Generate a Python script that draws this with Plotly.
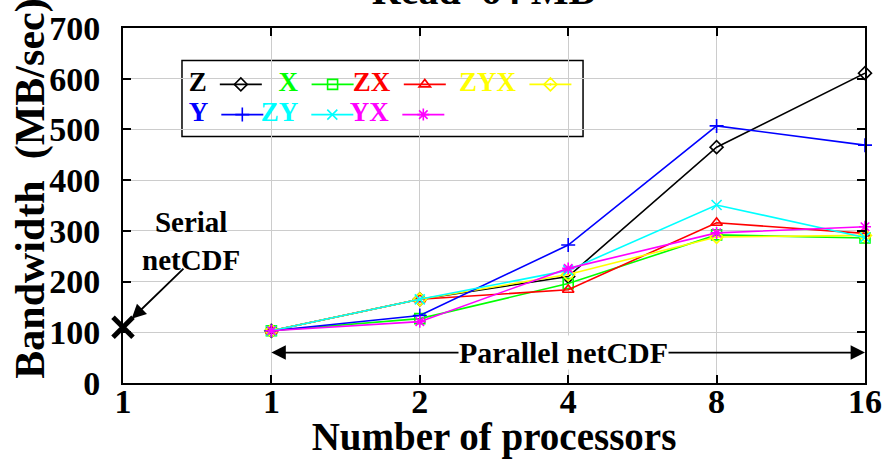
import numpy as np
import plotly.graph_objects as go

# ---- data ----
procs = [1, 2, 4, 8, 16]
tick_labels = ["1", "1", "2", "4", "8", "16"]
serial_bw = [110]
z_bw = [103, 165, 210, 465, 611]
y_bw = [103, 133, 272, 507, 469]
x_bw = [103, 127, 196, 292, 286]
zy_bw = [103, 165, 222, 351, 287]
zx_bw = [103, 165, 184, 316, 295]
yx_bw = [103, 121, 226, 296, 308]
zyx_bw = [103, 165, 214, 288, 291]

xpos = list(np.log2(procs) + 1)  # parallel positions; serial sits at 0
serial_x = [0]
tick_vals = serial_x + xpos

FONT = "Liberation Serif"

series = [
    # name, values, color, symbol, legend slot (x, y in paper units)
    ("Z", z_bw, "#000000", "diamond-open", (0.086, 0.840)),
    ("X", x_bw, "#00ff00", "square-open", (0.207, 0.840)),
    ("ZX", zx_bw, "#ff0000", "triangle-up-open", (0.307, 0.840)),
    ("ZYX", zyx_bw, "#ffff00", "diamond-open-dot", (0.450, 0.840)),
    ("Y", y_bw, "#0000ff", "cross-thin-open", (0.086, 0.755)),
    ("ZY", zy_bw, "#00ffff", "x-thin-open", (0.183, 0.755)),
    ("YX", yx_bw, "#ff00ff", "asterisk-open", (0.303, 0.755)),
]

fig = go.Figure()
legends = {}
for i, (name, vals, color, sym, (lx, ly)) in enumerate(series):
    key = "legend" if i == 0 else f"legend{i + 1}"
    fig.add_trace(go.Scatter(
        x=xpos, y=vals, mode="lines+markers", name=" ",
        line=dict(color=color, width=1.6),
        marker=dict(symbol=sym, size=10, color=color, line=dict(color=color, width=1.6)),
        legend=key, cliponaxis=False,
    ))
    legends[key] = dict(
        x=lx, y=ly, xanchor="left", yanchor="middle", orientation="h",
        bgcolor="rgba(0,0,0,0)", borderwidth=0, itemwidth=42,
        font=dict(family=FONT, size=34),
        title=dict(text=f"<b>{name}</b>", side="left",
                   font=dict(family=FONT, size=27, color=color)),
    )

# serial netCDF point
fig.add_trace(go.Scatter(
    x=serial_x, y=serial_bw, mode="markers", showlegend=False,
    marker=dict(symbol="x-thin-open", size=20, color="black", line=dict(color="black", width=5)),
    cliponaxis=False,
))

axis_font = dict(family=FONT, size=34, color="black", weight="bold")

fig.update_layout(
    template="none",
    width=887, height=459,
    margin=dict(l=123, r=22, t=28, b=76),
    paper_bgcolor="white", plot_bgcolor="white",
    title=dict(text="<b>Read  64 MB</b>", font=dict(family=FONT, size=40, color="black"),
               x=0.545, xanchor="center", y=0.991, yanchor="bottom", yref="container"),
    xaxis=dict(
        range=[0, 5], tickvals=tick_vals, ticktext=tick_labels,
        showgrid=True, gridcolor="#cccccc", gridwidth=1.2,
        showline=True, linecolor="black", linewidth=2, mirror="ticks",
        ticks="inside", ticklen=8, tickwidth=1.5, tickcolor="black",
        tickfont=axis_font, zeroline=False, ticklabelstandoff=-13,
        title=dict(text="<b>Number of processors</b>", font=dict(family=FONT, size=39, color="black"), standoff=0),
    ),
    yaxis=dict(
        range=[0, 700], dtick=100,
        showgrid=True, gridcolor="#cccccc", gridwidth=1.2,
        showline=True, linecolor="black", linewidth=2, mirror="ticks",
        ticks="inside", ticklen=8, tickwidth=1.5, tickcolor="black",
        tickfont=axis_font, zeroline=False, ticklabelstandoff=14,
    ),
    shapes=[dict(type="rect", xref="paper", yref="paper", x0=0.0795, x1=0.62, y0=0.6945, y1=0.9085,
                 line=dict(color="black", width=1.5), fillcolor="white", layer="between")],
    **legends,
)

# y-axis title (placed as rotated text so it sits where the reference has it)
fig.add_annotation(x=-0.125, y=0.548, xref="paper", yref="paper", text="<b>Bandwidth  (MB/sec)</b>",
                   textangle=-90, showarrow=False, xanchor="center", yanchor="middle",
                   font=dict(family=FONT, size=42, color="black"))

# annotations: serial pointer and parallel range arrow
fig.add_annotation(x=serial_x[0], y=serial_bw[0], xref="x", yref="y",
                   text="<b>Serial<br>netCDF</b>", font=dict(family=FONT, size=29, color="black"),
                   showarrow=False, xshift=68, yshift=86)
fig.add_annotation(x=serial_x[0], y=serial_bw[0], xref="x", yref="y", text="",
                   showarrow=True, ax=62, ay=-60, arrowhead=2, arrowsize=1.6, arrowwidth=1.8,
                   arrowcolor="black", standoff=12)
fig.add_annotation(x=xpos[0], y=60, xref="x", yref="y", ax=xpos[2], ay=60, axref="x", ayref="y",
                   text="", showarrow=True, arrowhead=2, arrowsize=1.6, arrowwidth=1.8, arrowcolor="black")
fig.add_annotation(x=xpos[-1], y=60, xref="x", yref="y", ax=xpos[2], ay=60, axref="x", ayref="y",
                   text="", showarrow=True, arrowhead=2, arrowsize=1.6, arrowwidth=1.8, arrowcolor="black")
fig.add_annotation(x=xpos[2] - 0.03, y=60, xref="x", yref="y", text="<b>Parallel netCDF</b>",
                   font=dict(family=FONT, size=30, color="black"), showarrow=False,
                   bgcolor="white", borderpad=0)

fig.write_html("out.html", config={"displayModeBar": False},
               post_script="document.body.style.margin='0';")
